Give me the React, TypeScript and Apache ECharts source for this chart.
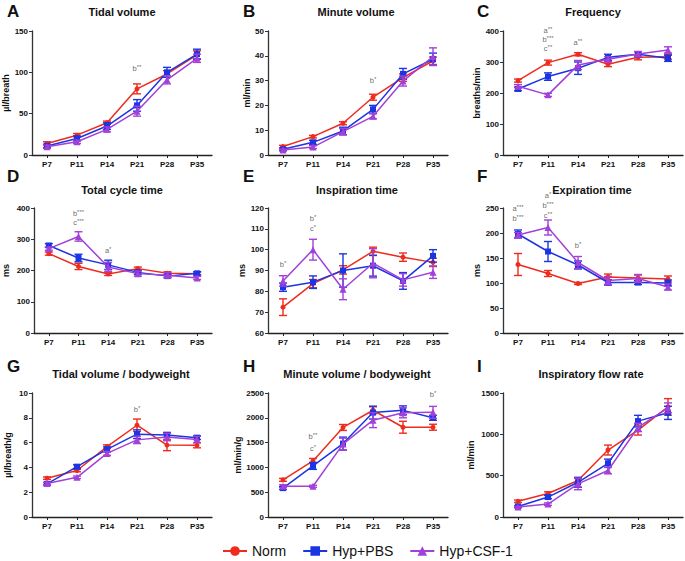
import React, { useEffect, useRef } from "react";
import * as echarts from "echarts";

const categories = ["P7", "P11", "P14", "P21", "P28", "P35"];
const groupNames = ["Norm", "Hyp+PBS", "Hyp+CSF-1"];

// A Tidal volume
const tvNorm = [14, 24, 39, 80, 98, 121];
const tvNormErr = [2, 2, 2, 6, 4, 5];
const tvPbs = [11, 20, 35, 60, 100, 122];
const tvPbsErr = [2, 3, 4, 7, 6, 6];
const tvCsf = [10, 16, 31, 53, 91, 117];
const tvCsfErr = [2, 2, 3, 6, 5, 5];
// B Minute volume
const mvNorm = [3.4, 7.4, 12.8, 23.3, 31.2, 38];
const mvNormErr = [0.5, 0.5, 0.6, 1.2, 1.5, 1.5];
const mvPbs = [2.3, 5.1, 9.7, 18.4, 32.7, 38.6];
const mvPbsErr = [0.4, 0.8, 1.5, 1.6, 2.2, 2.5];
const mvCsf = [2, 3.2, 9.4, 15.6, 29.8, 39.7];
const mvCsfErr = [0.4, 0.6, 1.3, 1, 2, 3.5];
// C Frequency
const frNorm = [240, 298, 325, 293, 315, 317];
const frNormErr = [5, 8, 5, 8, 8, 8];
const frPbs = [213, 253, 280, 315, 325, 312];
const frPbsErr = [6, 12, 20, 10, 8, 10];
const frCsf = [222, 194, 290, 309, 326, 339];
const frCsfErr = [5, 5, 15, 8, 8, 10];
// D Total cycle time
const ctNorm = [254, 213, 189, 206, 191, 190];
const ctNormErr = [5, 10, 5, 5, 5, 5];
const ctPbs = [280, 240, 218, 194, 182, 191];
const ctPbsErr = [6, 12, 15, 6, 5, 5];
const ctCsf = [270, 309, 211, 190, 185, 176];
const ctCsfErr = [5, 15, 15, 8, 8, 5];
// E Inspiration time
const tiNorm = [72.4, 83.7, 90.3, 99.2, 96.4, 93.9];
const tiNormErr = [4, 2, 2, 2, 2, 2];
const tiPbs = [82, 84.4, 90, 92.3, 85, 97];
const tiPbsErr = [2, 3, 8, 5, 4, 3];
const tiCsf = [85, 100, 81, 93.5, 85.5, 89.2];
const tiCsfErr = [2.5, 5, 5, 7, 3, 3];
// F Expiration time
const teNorm = [137, 119, 99, 112, 110, 108];
const teNormErr = [22, 6, 2, 6, 6, 6];
const tePbs = [198, 163, 136, 101, 101, 100];
const tePbsErr = [8, 20, 8, 5, 4, 6];
const teCsf = [196, 211, 141, 105, 109, 92];
const teCsfErr = [5, 15, 12, 8, 8, 6];
// G Tidal volume / bodyweight
const tbNorm = [3.13, 3.75, 5.67, 7.4, 5.8, 5.78];
const tbNormErr = [0.1, 0.1, 0.15, 0.5, 0.45, 0.2];
const tbPbs = [2.67, 4.06, 5.45, 6.68, 6.62, 6.4];
const tbPbsErr = [0.1, 0.15, 0.2, 0.35, 0.2, 0.15];
const tbCsf = [2.7, 3.2, 5.13, 6.22, 6.45, 6.25];
const tbCsfErr = [0.1, 0.1, 0.15, 0.3, 0.3, 0.25];
// H Minute volume / bodyweight
const mbNorm = [749, 1130, 1805, 2152, 1810, 1810];
const mbNormErr = [30, 50, 60, 70, 120, 60];
const mbPbs = [582, 1030, 1480, 2105, 2150, 2000];
const mbPbsErr = [30, 70, 130, 130, 90, 50];
const mbCsf = [620, 620, 1470, 1952, 2100, 2110];
const mbCsfErr = [30, 20, 120, 150, 100, 120];
// I Inspiratory flow rate
const ifNorm = [190, 285, 441, 810, 1051, 1332];
const ifNormErr = [15, 20, 25, 60, 60, 100];
const ifPbs = [128, 241, 420, 650, 1160, 1260];
const ifPbsErr = [10, 20, 60, 50, 70, 80];
const ifCsf = [120, 156, 400, 562, 1083, 1320];
const ifCsfErr = [10, 15, 70, 40, 50, 60];

// significance notes: [category index, value, letter, stars]
const notesA = [[3, 104, "b", "**"]];
const notesB = [[3, 30, "b", "*"]];
const notesC = [[1, 400, "a", "**"], [1, 370, "b", "***"], [1, 341, "c", "**"], [2, 362, "a", "**"]];
const notesD = [[1, 382, "b", "***"], [1, 352, "c", "***"], [2, 264, "a", "*"]];
const notesE = [[0, 92.6, "b", "*"], [1, 114.7, "b", "*"], [1, 110, "c", "*"]];
const notesF = [[0, 248, "a", "***"], [0, 228, "b", "***"], [1, 275, "a", "*"], [1, 255, "b", "***"], [1, 235, "c", "**"], [2, 175, "b", "*"]];
const notesG = [[3, 8.6, "b", "*"]];
const notesH = [[1, 1604, "b", "**"], [1, 1370, "c", "*"], [5, 2453, "b", "*"]];
const notesI: any[] = [];

const panels = [
  { letter: "A", title: "Tidal volume", yName: "µl/breath", min: 0, max: 150, interval: 50, vals: [tvNorm, tvPbs, tvCsf], errs: [tvNormErr, tvPbsErr, tvCsfErr], notes: notesA },
  { letter: "B", title: "Minute volume", yName: "ml/min", min: 0, max: 50, interval: 10, vals: [mvNorm, mvPbs, mvCsf], errs: [mvNormErr, mvPbsErr, mvCsfErr], notes: notesB },
  { letter: "C", title: "Frequency", yName: "breaths/min", min: 0, max: 400, interval: 100, vals: [frNorm, frPbs, frCsf], errs: [frNormErr, frPbsErr, frCsfErr], notes: notesC },
  { letter: "D", title: "Total cycle time", yName: "ms", min: 0, max: 400, interval: 100, vals: [ctNorm, ctPbs, ctCsf], errs: [ctNormErr, ctPbsErr, ctCsfErr], notes: notesD },
  { letter: "E", title: "Inspiration time", yName: "ms", min: 60, max: 120, interval: 10, vals: [tiNorm, tiPbs, tiCsf], errs: [tiNormErr, tiPbsErr, tiCsfErr], notes: notesE },
  { letter: "F", title: "Expiration time", yName: "ms", min: 0, max: 250, interval: 50, vals: [teNorm, tePbs, teCsf], errs: [teNormErr, tePbsErr, teCsfErr], notes: notesF },
  { letter: "G", title: "Tidal volume / bodyweight", yName: "µl/breath/g", min: 0, max: 10, interval: 2, vals: [tbNorm, tbPbs, tbCsf], errs: [tbNormErr, tbPbsErr, tbCsfErr], notes: notesG },
  { letter: "H", title: "Minute volume / bodyweight", yName: "ml/min/g", min: 0, max: 2500, interval: 500, vals: [mbNorm, mbPbs, mbCsf], errs: [mbNormErr, mbPbsErr, mbCsfErr], notes: notesH },
  { letter: "I", title: "Inspiratory flow rate", yName: "ml/min", min: 0, max: 1500, interval: 500, vals: [ifNorm, ifPbs, ifCsf], errs: [ifNormErr, ifPbsErr, ifCsfErr], notes: notesI },
];

// layout
const colLeft = [32, 268, 503];
const rowTop = [31, 208, 393];
const rowHeight = [124, 125, 124];
const gridWidth = 180;
const nameGaps = [16, 16, 20, 24, 21, 21, 20, 26, 28];
const letterX = [7, 243, 477];
const letterY = [11, 176, 366];
const titleY = [12, 190, 374];
const titleX = [[122, 356, 593], [122, 357, 592], [121, 357, 591]];

const colors = ["#ef2b1d", "#1b34e4", "#a240d8"];
const symbols = ["circle", "rect", "triangle"];
const symbolSizes = [5, 6, 7];
const FONT = "Arial, 'Liberation Sans', sans-serif";

export default function App() {
  const ref = useRef<HTMLDivElement>(null);
  useEffect(() => {
    if (!ref.current) return;
    const chart = echarts.init(ref.current, null, { renderer: "svg" });
    const grid: any[] = [];
    const xAxis: any[] = [];
    const yAxis: any[] = [];
    const series: any[] = [];
    const graphic: any[] = [];

    panels.forEach((p, i) => {
      const r = Math.floor(i / 3);
      const c = i % 3;
      grid.push({ left: colLeft[c], top: rowTop[r], width: gridWidth, height: rowHeight[r] });
      xAxis.push({
        type: "category", gridIndex: i, data: categories, boundaryGap: true,
        axisLine: { lineStyle: { color: "#222", width: 1.3 } },
        axisTick: { show: true, alignWithLabel: true, length: 3, lineStyle: { color: "#222" } },
        axisLabel: { fontSize: 8, fontWeight: "bold", color: "#111", fontFamily: FONT, margin: 5 },
      });
      yAxis.push({
        type: "value", gridIndex: i, min: p.min, max: p.max, interval: p.interval,
        name: p.yName, nameLocation: "middle", nameGap: nameGaps[i], nameRotate: 90,
        nameTextStyle: { fontSize: 9, fontWeight: "bold", color: "#111", fontFamily: FONT },
        axisLine: { show: true, lineStyle: { color: "#333", width: 1.3 } },
        axisTick: { show: true, length: 3, lineStyle: { color: "#333" } },
        splitLine: { show: false },
        axisLabel: { fontSize: 8, fontWeight: "bold", color: "#111", fontFamily: FONT, margin: 4, formatter: (v: number) => String(v) },
      });
      graphic.push({
        type: "text", x: letterX[c], y: letterY[r],
        style: { text: p.letter, fontSize: 17, fontWeight: "bold", fontFamily: FONT, fill: "#111", align: "left", verticalAlign: "middle" },
      });
      graphic.push({
        type: "text", x: titleX[r][c], y: titleY[r],
        style: { text: p.title, fontSize: 11, fontWeight: "bold", fontFamily: FONT, fill: "#111", align: "center", verticalAlign: "middle" },
      });
      for (let g = 0; g < 3; g++) {
        const color = colors[g];
        series.push({
          type: "line", name: groupNames[g], xAxisIndex: i, yAxisIndex: i,
          data: p.vals[g], symbol: symbols[g], symbolSize: symbolSizes[g],
          lineStyle: { color, width: 1.5 }, itemStyle: { color }, z: 3 + g,
        });
        series.push({
          type: "custom", name: groupNames[g] + " err", xAxisIndex: i, yAxisIndex: i, z: 3 + g,
          encode: { x: 0, y: [1, 2] },
          data: p.vals[g].map((v, k) => [k, v - p.errs[g][k], v + p.errs[g][k]]),
          renderItem: (_params: any, api: any) => {
            const x = api.value(0);
            const lo = api.coord([x, api.value(1)]);
            const hi = api.coord([x, api.value(2)]);
            const w = 4;
            const style = { stroke: color, lineWidth: 1.4 };
            return {
              type: "group",
              children: [
                { type: "line", shape: { x1: hi[0], y1: hi[1], x2: lo[0], y2: lo[1] }, style },
                { type: "line", shape: { x1: hi[0] - w, y1: hi[1], x2: hi[0] + w, y2: hi[1] }, style },
                { type: "line", shape: { x1: lo[0] - w, y1: lo[1], x2: lo[0] + w, y2: lo[1] }, style },
              ],
            };
          },
        });
      }
      if (p.notes.length) {
        series.push({
          type: "scatter", xAxisIndex: i, yAxisIndex: i, symbolSize: 0, clip: false, z: 10,
          itemStyle: { color: "#444" },
          data: p.notes,
          label: {
            show: true, position: "top", distance: -4, color: "#444",
            formatter: (q: any) => `{l|${q.data[2]}}{s|${q.data[3]}}`,
            rich: {
              l: { fontSize: 7.5, color: "#444", fontFamily: FONT, lineHeight: 9 },
              s: { fontSize: 6, color: "#444", fontFamily: FONT, lineHeight: 9, verticalAlign: "top" },
            },
          },
        });
      }
    });

    chart.setOption({
      animation: false,
      grid, xAxis, yAxis, series, graphic,
      legend: {
        data: groupNames, left: 217, top: 539, itemWidth: 24, itemHeight: 12, itemGap: 16,
        textStyle: { fontSize: 14, color: "#111", fontFamily: FONT, lineHeight: 14 },
      },
    });
    return () => chart.dispose();
  }, []);
  return <div ref={ref} style={{ position: "fixed", left: 0, top: 0, width: 685, height: 561, background: "#fff" }} />;
}
